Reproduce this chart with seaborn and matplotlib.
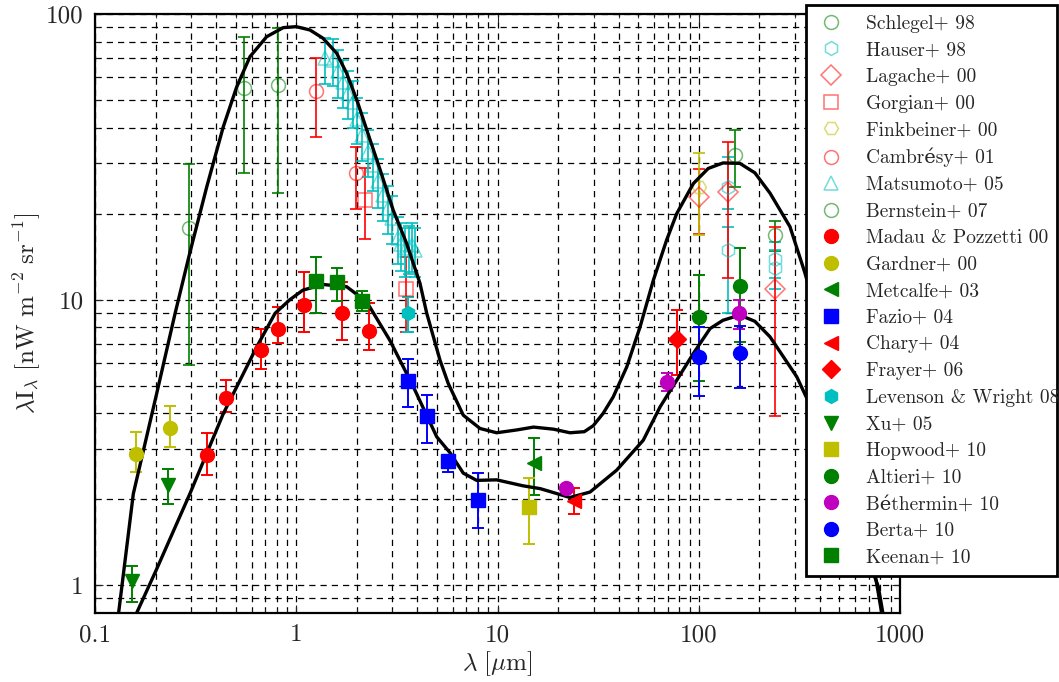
import matplotlib
matplotlib.use("Agg")
import matplotlib.pyplot as plt
from matplotlib.ticker import LogLocator, FuncFormatter, NullFormatter
import pandas as pd
import seaborn as sns

# === model curves ===
upper_wl = [0.131, 0.155, 0.2025, 0.25, 0.296, 0.359, 0.434, 0.506, 0.589, 0.713, 0.862, 1.0,
            1.17, 1.36, 1.59, 1.78, 2.0, 2.24, 2.61, 3.03, 3.54, 4.12, 4.45, 5.18, 5.69,
            6.76, 8.19, 9.9, 12.5, 15.1, 19.0, 22.9, 27.0, 29.9, 33.5, 37.6, 43.9, 51.1, 59.5,
            69.3, 77.7, 94, 111.5, 132, 160, 190, 226, 284, 337, 420, 520, 640, 751, 811]
upper_val = [0.8, 2.09, 4.69, 8.95, 14.6, 24.8, 40.3, 55.6, 70.9, 83.3, 89.6, 90.3,
             87.9, 82.2, 72.8, 62.0, 50.0, 39.3, 28.5, 20.6, 15.7, 11.4, 8.96, 6.14, 5.09,
             3.94, 3.54, 3.42, 3.50, 3.58, 3.52, 3.42, 3.45, 3.62, 4.0, 4.57, 5.82, 8.03, 11.7,
             16.2, 20.0, 25.5, 28.8, 30.1, 30.0, 27.8, 23.6, 18.0, 12.4, 7.1, 3.7, 1.8, 1.1, 0.8]

lower_wl = [0.161, 0.2025, 0.296, 0.434, 0.636, 0.785, 0.93, 1.08, 1.36, 1.78, 2.24, 2.92,
            3.82, 4.99, 5.81, 6.76, 7.88, 9.9, 13.4, 16.3, 22.9, 28.8, 39.1, 53, 64.2, 77.7,
            94, 113.8, 132, 160, 190, 226, 307, 400, 520, 650, 780, 822]
lower_val = [0.8, 1.14, 2.09, 3.99, 6.83, 8.96, 10.0, 10.8, 11.3, 11.1, 9.82, 7.2,
             4.95, 3.31, 2.91, 2.47, 2.33, 2.34, 2.23, 2.18, 2.03, 2.12, 2.53, 3.22, 4.21, 5.22,
             6.48, 7.92, 8.47, 8.83, 8.4, 7.41, 5.37, 3.6, 2.2, 1.4, 0.99, 0.8]

# === measurements: wavelength, value, lower end, upper end of the bar ===
schlegel_x = [151, 240]
schlegel_y = [32.0, 16.8]
schlegel_lo = [24.8, 14.8]
schlegel_hi = [39.3, 18.8]

hauser_x = [140, 140, 240, 240]
hauser_y = [24.8, 14.9, 13.9, 12.9]
hauser_lo = [20.8, 9.0, 11.9, 10.9]
hauser_hi = [31.6, 17.9, 15.9, 14.9]

lagache_x = [100, 140, 240]
lagache_y = [22.8, 23.9, 10.9]
lagache_lo = [17.0, 11.9, 3.93]
lagache_hi = [28.6, 35.7, 17.9]

gorjian_x = [2.2, 3.5]
gorjian_y = [22.3, 10.9]
gorjian_lo = [16.3, 7.7]
gorjian_hi = [28.8, 14.1]

finkbeiner_x = [100]
finkbeiner_y = [24.8]
finkbeiner_lo = [16.8]
finkbeiner_hi = [32.5]

cambresy_x = [1.25, 1.97]
cambresy_y = [53.8, 27.8]
cambresy_lo = [37.0, 20.8]
cambresy_hi = [70.0, 34.3]

matsumoto_x = [1.39, 1.52, 1.62, 1.71, 1.81, 1.91, 2.01, 2.12, 2.26, 2.41, 2.55, 2.70,
               2.85, 2.99, 3.20, 3.33, 3.47, 3.62, 3.76, 3.89]
matsumoto_y = [70.1, 69.0, 63.0, 57.8, 53.0, 49.2, 43.0, 37.7, 33.0, 29.6, 26.0, 23.2,
               21.0, 19.3, 16.4, 15.6, 14.9, 15.2, 15.5, 14.9]
matsumoto_lo = [56.9, 56.0, 51.0, 47.0, 43.0, 40.0, 35.0, 30.5, 26.8, 24.0, 21.0, 18.8,
                17.0, 15.6, 13.3, 12.6, 12.0, 12.3, 12.5, 12.0]
matsumoto_hi = [82.4, 82.0, 75.0, 69.0, 63.0, 58.5, 51.0, 45.0, 39.2, 35.2, 31.0, 27.6,
                25.0, 23.0, 19.5, 18.6, 17.8, 18.1, 18.5, 17.8]

bernstein_x = [0.293, 0.552, 0.815]
bernstein_y = [17.8, 55.2, 56.4]
bernstein_lo = [5.9, 27.7, 23.7]
bernstein_hi = [29.8, 83.0, 89.0]

madau_x = [0.359, 0.446, 0.666, 0.809, 1.096, 1.69, 2.30]
madau_y = [2.85, 4.53, 6.65, 7.92, 9.57, 8.96, 7.78]
madau_lo = [2.43, 4.05, 5.74, 7.06, 7.71, 7.2, 6.65]
madau_hi = [3.41, 5.22, 7.88, 9.44, 12.5, 11.5, 9.77]

gardner_x = [0.159, 0.236]
gardner_y = [2.88, 3.54]
gardner_lo = [2.49, 3.05]
gardner_hi = [3.44, 4.25]

metcalfe_x = [15.1]
metcalfe_y = [2.69]
metcalfe_lo = [2.07]
metcalfe_hi = [3.27]

fazio_x = [3.58, 4.48, 5.69, 7.97]
fazio_y = [5.2, 3.92, 2.73, 1.985]
fazio_lo = [4.21, 3.15, 2.49, 1.59]
fazio_hi = [6.19, 4.62, 2.83, 2.48]

chary_x = [24.0]
chary_y = [1.97]
chary_lo = [1.78]
chary_hi = [2.19]

frayer_x = [77.6]
frayer_y = [7.3]
frayer_lo = [5.45]
frayer_hi = [9.2]

levenson_x = [3.6]
levenson_y = [8.96]
levenson_lo = [7.7]
levenson_hi = [10.2]

xu_x = [0.152, 0.230]
xu_y = [1.035, 2.25]
xu_lo = [0.875, 1.92]
xu_hi = [1.17, 2.55]

hopwood_x = [14.35]
hopwood_y = [1.88]
hopwood_lo = [1.39]
hopwood_hi = [2.38]

altieri_x = [100, 160]
altieri_y = [8.7, 11.2]
altieri_lo = [5.2, 7.1]
altieri_hi = [12.2, 15.2]

bethermin_x = [21.8, 69.3, 159]
bethermin_y = [2.20, 5.15, 9.0]
bethermin_lo = [2.15, 4.8, 7.9]
bethermin_hi = [2.25, 5.55, 10.0]

berta_x = [100, 160]
berta_y = [6.3, 6.5]
berta_lo = [4.6, 4.9]
berta_hi = [8.0, 8.1]

keenan_x = [1.25, 1.59, 2.11]
keenan_y = [11.6, 11.5, 9.9]
keenan_lo = [9.0, 9.9, 9.1]
keenan_hi = [14.1, 12.9, 10.7]

# --- colours of the old matplotlib letters ---
G = (0, 0.5, 0)
C = (0, 0.75, 0.75)
Y = (0.75, 0.75, 0)
M = (0.75, 0, 0.75)
R = (1, 0, 0)
B = (0, 0, 1)

# label, data, marker, colour, open?, size
sets = [
    ("Schlegel+ 98", (schlegel_x, schlegel_y, schlegel_lo, schlegel_hi), "o", G, True, 10),
    ("Hauser+ 98", (hauser_x, hauser_y, hauser_lo, hauser_hi), "h", C, True, 10),
    ("Lagache+ 00", (lagache_x, lagache_y, lagache_lo, lagache_hi), "D", R, True, 10),
    ("Gorgian+ 00", (gorjian_x, gorjian_y, gorjian_lo, gorjian_hi), "s", R, True, 10),
    ("Finkbeiner+ 00", (finkbeiner_x, finkbeiner_y, finkbeiner_lo, finkbeiner_hi), "H", Y, True, 10),
    ("Cambrésy+ 01", (cambresy_x, cambresy_y, cambresy_lo, cambresy_hi), "o", R, True, 10),
    ("Matsumoto+ 05", (matsumoto_x, matsumoto_y, matsumoto_lo, matsumoto_hi), "^", C, True, 10),
    ("Bernstein+ 07", (bernstein_x, bernstein_y, bernstein_lo, bernstein_hi), "o", G, True, 10),
    ("Madau & Pozzetti 00", (madau_x, madau_y, madau_lo, madau_hi), "o", R, False, 10),
    ("Gardner+ 00", (gardner_x, gardner_y, gardner_lo, gardner_hi), "o", Y, False, 10),
    ("Metcalfe+ 03", (metcalfe_x, metcalfe_y, metcalfe_lo, metcalfe_hi), "<", G, False, 10),
    ("Fazio+ 04", (fazio_x, fazio_y, fazio_lo, fazio_hi), "s", B, False, 10),
    ("Chary+ 04", (chary_x, chary_y, chary_lo, chary_hi), "<", R, False, 10),
    ("Frayer+ 06", (frayer_x, frayer_y, frayer_lo, frayer_hi), "D", R, False, 9),
    ("Levenson & Wright 08", (levenson_x, levenson_y, levenson_lo, levenson_hi), "h", C, False, 10),
    ("Xu+ 05", (xu_x, xu_y, xu_lo, xu_hi), "v", G, False, 10),
    ("Hopwood+ 10", (hopwood_x, hopwood_y, hopwood_lo, hopwood_hi), "s", Y, False, 10),
    ("Altieri+ 10", (altieri_x, altieri_y, altieri_lo, altieri_hi), "o", G, False, 10),
    ("Béthermin+ 10", (bethermin_x, bethermin_y, bethermin_lo, bethermin_hi), "o", M, False, 10),
    ("Berta+ 10", (berta_x, berta_y, berta_lo, berta_hi), "o", B, False, 10),
    ("Keenan+ 10", (keenan_x, keenan_y, keenan_lo, keenan_hi), "s", G, False, 10),
]

sns.set_style("ticks")
plt.rcParams['font.family'] = ['cmr10', 'DejaVu Serif']
plt.rcParams['mathtext.fontset'] = 'cm'
plt.rcParams['axes.unicode_minus'] = False
plt.rcParams['axes.formatter.use_mathtext'] = True

fig = plt.figure(figsize=(10.59, 6.82), dpi=100)
ax = fig.add_axes([95 / 1059, 1 - 613 / 682, 805 / 1059, 599 / 682])
ax.set_xscale('log')
ax.set_yscale('log')

# модельные кривые
for wl, val in [(upper_wl, upper_val), (lower_wl, lower_val)]:
    df = pd.DataFrame({'wl': wl, 'val': val})
    sns.lineplot(data=df, x='wl', y='val', color='k', lw=2.4, sort=False,
                 estimator=None, ax=ax, zorder=5)

for label, (x, y, lo, hi), mk, col, hollow, ms in sets:
    yerr = [[v - l for v, l in zip(y, lo)], [h - v for v, h in zip(y, hi)]]
    ax.errorbar(x, y, yerr=yerr, fmt='none', ecolor=col, elinewidth=1.4,
                capsize=4, capthick=1.4, alpha=0.85 if hollow else 1, zorder=3)
    if hollow:
        ax.plot(x, y, ls='none', marker=mk, ms=ms, mfc='none',
                mec=col + (0.55,), mew=1.1, label=label, zorder=4)
    else:
        ax.plot(x, y, ls='none', marker=mk, ms=ms, color=col, mec=col,
                label=label, zorder=6)

ax.set_xlim(0.1, 1000)
ax.set_ylim(0.8, 100)
ax.xaxis.set_major_locator(LogLocator(base=10, numticks=10))
ax.yaxis.set_major_locator(LogLocator(base=10, numticks=10))
fmt = FuncFormatter(lambda v, p: f"{v:g}")
ax.xaxis.set_major_formatter(fmt)
ax.yaxis.set_major_formatter(fmt)
ax.xaxis.set_minor_formatter(NullFormatter())
ax.yaxis.set_minor_formatter(NullFormatter())
ax.grid(True, which='both', color='k', ls='--', lw=0.9, dashes=(5, 4))
ax.tick_params(which='both', direction='in', top=True, right=True, labelsize=18, pad=8)
ax.tick_params(which='major', length=6)
ax.tick_params(which='minor', length=3)
for s in ax.spines.values():
    s.set_linewidth(1.6)
    s.set_color('k')

ax.set_xlabel(r'$\lambda\ [\mu\mathrm{m}]$', fontsize=18, labelpad=2)
ax.set_ylabel(r'$\lambda\mathrm{I}_\lambda\ [\mathrm{nW\ m}^{-2}\ \mathrm{sr}^{-1}]$',
              fontsize=18, labelpad=2)

# рамка легенды фиксированной ширины, как на оригинале
leg = ax.legend(loc='upper left',
                bbox_to_anchor=(806 / 1059, 1 - 574 / 682, 251 / 1059, 569 / 682),
                bbox_transform=fig.transFigure, mode='expand', numpoints=1, fontsize=14,
                frameon=True, fancybox=False, framealpha=1, edgecolor='k',
                borderaxespad=0, labelspacing=0.445, handlelength=1.6,
                handletextpad=1.0, borderpad=0.5)
leg.get_frame().set_linewidth(2)
leg.set_zorder(20)

fig.savefig("out.png", dpi=100)
